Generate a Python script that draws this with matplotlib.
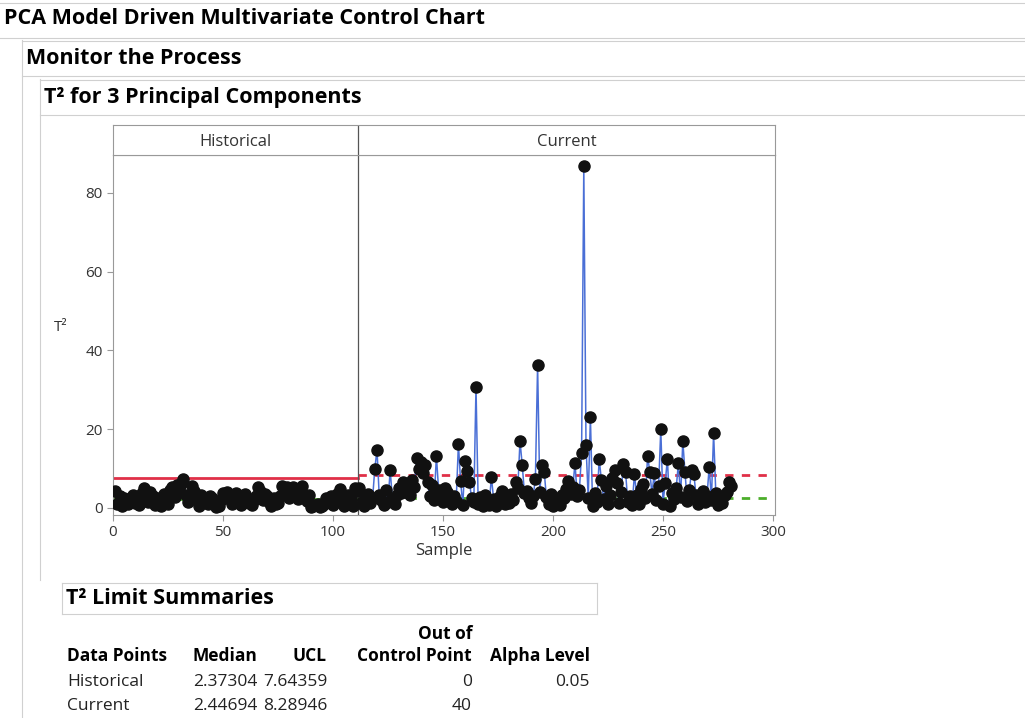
import matplotlib.pyplot as plt
from matplotlib.lines import Line2D
import numpy as np

plt.rcParams['font.family'] = ['Open Sans', 'DejaVu Sans']

# T2 values, historical samples 1..111
historical = [4.2, 1.0, 3.1, 0.5, 2.4, 1.8, 0.9, 2.6, 3.3, 1.2,
              2.8, 0.7, 3.9, 5.0, 2.2, 1.5, 4.1, 3.0, 0.8, 1.9,
              2.5, 0.4, 3.6, 2.0, 1.1, 4.5, 5.3, 2.7, 5.8, 4.9,
              6.0, 7.3, 3.2, 1.4, 2.9, 5.6, 4.4, 2.1, 0.6, 3.4,
              2.3, 1.7, 0.9, 3.0, 2.6, 1.3, 0.3, 0.5, 1.9, 3.7,
              2.4, 4.0, 3.3, 1.0, 2.8, 3.9, 1.6, 0.7, 2.5, 3.5,
              2.2, 1.2, 0.8, 1.9, 3.1, 5.3, 4.2, 2.0, 3.6, 2.9,
              1.5, 0.4, 2.6, 0.9, 1.3, 3.0, 5.5, 4.7, 5.4, 2.4,
              4.9, 5.2, 3.8, 2.2, 4.1, 5.5, 2.7, 1.8, 3.3, 0.3,
              0.5, 0.8, 1.1, 0.2, 0.6, 0.9, 2.5, 1.4, 3.0, 0.7,
              2.3, 3.6, 4.8, 2.1, 0.4, 1.0, 3.2, 2.4, 0.6, 5.1, 4.4]

# T2 values, current samples 112..281
current = [5.0, 1.5, 0.6, 2.8, 3.5, 1.2, 2.4, 10.0, 14.7, 3.2,
           2.0, 0.8, 4.5, 1.6, 9.6, 2.2, 0.9, 3.4, 5.0, 3.8,
           6.7, 4.0, 5.8, 3.2, 7.2, 5.4, 12.7, 9.8, 11.7, 8.9,
           11.0, 6.5, 3.0, 5.8, 2.1, 13.2, 4.6, 3.7, 1.5, 5.0,
           4.0, 2.6, 0.9, 3.1, 1.8, 16.2, 6.8, 0.7, 12.0, 9.4,
           6.6, 2.5, 1.4, 30.7, 1.0, 2.8, 0.5, 3.4, 1.9, 0.8,
           7.9, 2.2, 0.6, 1.5, 3.0, 4.2, 0.9, 2.4, 1.3, 3.6,
           2.0, 6.6, 5.0, 17.0, 11.0, 3.9, 4.4, 2.6, 1.2, 3.0,
           7.4, 36.3, 4.1, 11.0, 9.2, 2.7, 1.0, 3.5, 0.6, 2.2,
           1.4, 0.8, 3.2, 2.5, 4.8, 6.9, 3.6, 5.2, 11.4, 2.9,
           4.5, 14.0, 86.7, 16.0, 2.5, 23.0, 0.5, 3.8, 1.6, 12.4,
           7.0, 2.2, 5.6, 0.9, 3.4, 7.5, 9.5, 6.3, 1.2, 4.0,
           11.2, 9.0, 1.5, 2.9, 0.7, 8.6, 3.3, 1.0, 4.9, 6.1,
           2.4, 13.2, 9.2, 3.5, 8.8, 2.0, 5.5, 20.0, 1.1, 6.4,
           12.4, 0.6, 3.9, 2.3, 5.0, 11.4, 2.7, 17.0, 9.0, 1.8,
           4.6, 9.6, 8.7, 3.2, 0.9, 2.5, 4.3, 1.4, 3.0, 10.4,
           2.1, 19.0, 3.8, 0.8, 2.6, 1.2, 3.3, 4.0, 6.6, 5.6]

hist_median, hist_ucl = 2.37304, 7.64359
cur_median, cur_ucl = 2.44694, 8.28946

table_cols = ['Data Points', 'Median', 'UCL', 'Out of\nControl Point', 'Alpha Level']
table_rows = [['Historical', '2.37304', '7.64359', '0', '0.05'],
              ['Current', '2.44694', '8.28946', '40', '']]

W, H = 1025, 718
fig = plt.figure(figsize=(W / 100, H / 100), dpi=100)


def fx(x):
    return x / W


def fy(y):
    return 1 - y / H


def hline(x0, x1, y, color='#d0d0d0', lw=0.8):
    fig.add_artist(Line2D([fx(x0), fx(x1)], [fy(y), fy(y)], color=color, lw=lw))


def vline(x, y0, y1, color='#d0d0d0', lw=0.8):
    fig.add_artist(Line2D([fx(x), fx(x)], [fy(y0), fy(y1)], color=color, lw=lw))


# outline boxes and headings
hline(0, W, 3)
hline(0, W, 38)
vline(22, 40, 718)
hline(22, W, 41)
hline(22, W, 76)
vline(40, 79, 580)
hline(40, W, 80)
hline(40, W, 115)
fig.text(fx(4), fy(19), 'PCA Model Driven Multivariate Control Chart', fontsize=15.5, fontweight='bold', va='center')
fig.text(fx(26), fy(59), 'Monitor the Process', fontsize=15.5, fontweight='bold', va='center')
fig.text(fx(44), fy(97), 'T² for 3 Principal Components', fontsize=15.5, fontweight='bold', va='center')

# main plot area
left, right, top, bottom = 113, 775, 155, 515
xmax = 300 * (right - left) / (773 - left)
ax = fig.add_axes([fx(left), fy(bottom), fx(right - left), (bottom - top) / H])
hx = np.arange(1, len(historical) + 1)
cx = np.arange(len(historical) + 1, len(historical) + len(current) + 1)
split = len(historical) + 0.5

ax.plot(hx, historical, color='#4a6fd6', lw=1.1, zorder=2)
ax.plot(cx, current, color='#4a6fd6', lw=1.1, zorder=2)
ax.plot([0, split], [hist_ucl, hist_ucl], color='#e03048', lw=2, zorder=1)
ax.plot([0, split], [hist_median, hist_median], color='#4cae2a', lw=2, zorder=1)
ax.plot([split, xmax], [cur_ucl, cur_ucl], color='#e03048', lw=2, ls=(0, (3, 3)), zorder=1)
ax.plot([split, xmax], [cur_median, cur_median], color='#4cae2a', lw=2, ls=(0, (3, 3)), zorder=1)
ax.plot(hx, historical, 'o', color='#111111', ms=8, zorder=3)
ax.plot(cx, current, 'o', color='#111111', ms=8, zorder=3)
ax.axvline(split, color='#555555', lw=0.9)

ax.set_xlim(0, xmax)
ax.set_ylim(-1.8, 89.6)
ax.set_xticks([0, 50, 100, 150, 200, 250, 300])
ax.set_yticks([0, 20, 40, 60, 80])
ax.tick_params(colors='#999999', labelcolor='#333333', labelsize=11, length=4)
for s in ax.spines.values():
    s.set_color('#999999')
ax.set_xlabel('Sample', fontsize=12, color='#333333', labelpad=2)
ax.set_ylabel('T²', fontsize=11, color='#333333', rotation=0, labelpad=18)

# header band with group names
hax = fig.add_axes([fx(left), fy(top), fx(right - left), (top - 125) / H])
hax.set_xlim(0, xmax)
hax.set_ylim(0, 1)
hax.set_xticks([])
hax.set_yticks([])
for s in hax.spines.values():
    s.set_color('#999999')
hax.axvline(split, color='#555555', lw=0.9)
hax.text(split / 2, 0.45, 'Historical', ha='center', va='center', fontsize=12, color='#333333')
hax.text((split + xmax) / 2, 0.45, 'Current', ha='center', va='center', fontsize=12, color='#333333')

# limit summaries table
hline(62, 597, 583)
hline(62, 597, 614)
vline(62, 583, 614)
vline(597, 583, 614)
fig.text(fx(66), fy(598), 'T² Limit Summaries', fontsize=15.5, fontweight='bold', va='center')
col_x = [67, 257, 327, 472, 590]
col_ha = ['left', 'right', 'right', 'right', 'right']
for i, name in enumerate(table_cols):
    fig.text(fx(col_x[i]), fy(665), name, fontsize=12.5, fontweight='bold', ha=col_ha[i], va='bottom',
             multialignment='right', linespacing=1.3)
for r, row in enumerate(table_rows):
    for i, val in enumerate(row):
        fig.text(fx(col_x[i]), fy(682 + r * 24), val, fontsize=12.5, ha=col_ha[i], va='center', color='#222222')

fig.savefig('out.png', dpi=100)
